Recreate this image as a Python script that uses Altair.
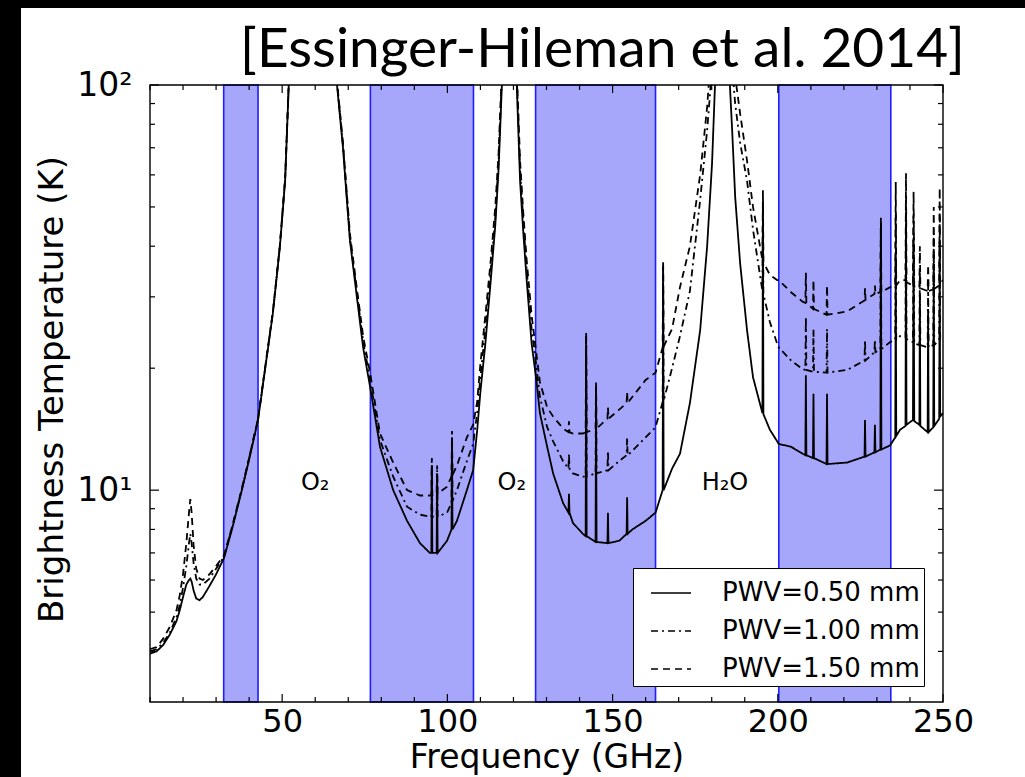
import altair as alt
import pandas as pd

# ---- Atmospheric brightness temperature spectra (K) vs frequency (GHz) ----
FREQ = [
    10, 12, 14, 16, 18, 19, 20, 21, 21.8, 22.2, 22.6, 23.2, 24, 25, 26, 28, 30, 32.4,
    34.8, 37.8, 40, 42.7, 44.8, 47.2, 49.3, 50.9, 52, 53, 55, 60, 64, 65.5, 66.6, 68.4, 70.5, 72.6, 74.5, 76.6,
    79.6, 83.6, 87.8, 91.7, 94.7, 95.15, 95.3, 95.45, 96.75, 96.9, 97.05, 99.9, 101.25, 101.4, 101.55, 102.9, 105.9, 107.8,
    109, 110, 111.5, 113, 114.5, 115.5, 116.5, 117.5, 118.75, 120, 121, 122, 123, 124, 125.5, 127, 128,
    130.2, 132, 135, 136.65, 136.8, 136.95, 138, 141, 141.85, 142.0, 142.15, 144.85, 145.0, 145.15, 148.45, 148.6, 148.75, 152, 154.25, 154.4, 154.55, 156, 160, 163,
    165.15, 165.3, 165.45, 168, 170.4, 173.4, 176.5, 178.6, 180.1, 181, 183.3, 185.5, 186.2, 187.1, 188.6, 190.7, 192.5, 195.35, 195.5, 195.65, 197.6, 199.8,
    200.3, 204, 207.5, 208.35, 208.5, 208.65, 210.65, 210.8, 210.95, 214.75, 214.9, 215.05, 221, 226.25, 226.4, 226.55, 229.25, 229.4, 229.55, 231.05, 231.2, 231.35, 234,
    235.55, 235.7, 235.85, 237, 238.65, 238.8, 238.95, 240.9, 241.1, 241.3, 242.85, 243.0, 243.15, 245.35, 245.5, 245.65, 247.05, 247.2, 247.35, 248.85, 249.0, 249.15, 250,
]

TB_PWV_050 = [
    3.95, 4.0, 4.15, 4.4, 4.75, 5.05, 5.45, 5.85, 6.0, 6.05, 5.95, 5.65, 5.4, 5.35, 5.45, 5.8, 6.2, 6.8,
    8.0, 10.0, 11.9, 14.9, 19.8, 27.4, 39.8, 58, 100, 160, 250, 275, 260, 160, 100, 70, 41.4, 30, 22.5, 18.0,
    12.8, 10.0, 8.4, 7.4, 7.0, 7.0, 11.5, 7.0, 7.0, 11.0, 7.0, 7.5, 8.0, 13.5, 8.0, 8.4, 10.0, 11.2,
    14.0, 17.5, 23, 32, 45, 62, 100, 180, 275, 180, 100, 58, 43, 33, 23, 18.5, 15.5,
    12.8, 11.0, 9.3, 8.8, 9.8, 8.8, 8.3, 7.8, 7.7, 23.7, 7.7, 7.45, 17.5, 7.45, 7.4, 8.8, 7.4, 7.5, 7.8, 9.6, 7.8, 8.0, 8.4, 8.8,
    10.0, 35.5, 10.0, 11.3, 12.3, 16.4, 24.8, 39.8, 64, 100, 275, 100, 77, 53, 36.3, 24.8, 19, 15.5, 50, 15.4, 14.1, 13.2,
    13.0, 12.8, 12.3, 12.2, 19.2, 12.2, 12.0, 17.3, 12.0, 11.6, 17.3, 11.6, 11.7, 12.1, 14.9, 12.1, 12.4, 14.5, 12.4, 12.6, 45.6, 12.6, 12.9,
    13.5, 38, 13.6, 14.1, 14.4, 45, 14.5, 14.9, 42, 14.8, 14.5, 30, 14.4, 13.9, 28, 13.9, 14.3, 36, 14.4, 15.0, 40, 15.2, 15.5,
]

TB_PWV_100 = [
    4.0, 4.05, 4.2, 4.45, 4.85, 5.2, 5.75, 6.5, 7.4, 7.8, 7.4, 6.6, 6.05, 5.85, 5.85, 6.05, 6.4, 6.85,
    8.05, 10.05, 12.0, 15.0, 19.9, 27.5, 40, 58.5, 101, 160, 250, 275, 260, 160, 101, 71, 42, 30.8, 23.3, 18.8,
    13.3, 10.8, 9.1, 8.7, 8.6, 8.6, 11.5, 8.6, 8.6, 11.2, 8.6, 8.8, 9.3, 13.5, 9.4, 10.0, 11.8, 13.0,
    15.5, 19, 25, 34, 47, 65, 105, 180, 275, 180, 105, 62, 46, 35, 25, 20, 17,
    14.3, 13.2, 11.8, 11.3, 12.3, 11.3, 11.0, 10.8, 10.8, 24, 10.8, 11.0, 18, 11.0, 11.2, 12.5, 11.2, 11.8, 12.2, 13.5, 12.2, 12.5, 13.5, 14.3,
    16.5, 36, 16.6, 20, 24, 31, 52, 77, 110, 150, 275, 140, 110, 90, 72, 58, 44, 31, 52, 30.5, 26, 23,
    22.5, 20.9, 19.9, 19.8, 26.8, 19.8, 19.6, 25, 19.6, 19.5, 25, 19.5, 19.8, 20.9, 23.5, 20.9, 21.9, 23.5, 21.9, 22.3, 46, 22.3, 23.2,
    23.5, 48, 23.5, 24, 23.8, 52, 23.6, 23.2, 48, 23, 22.8, 35, 22.8, 22.5, 32, 22.5, 22.8, 43, 22.8, 23.5, 48, 23.6, 24,
]

TB_PWV_150 = [
    4.05, 4.1, 4.3, 4.6, 5.05, 5.5, 6.2, 7.4, 8.8, 9.5, 8.8, 7.3, 6.4, 6.05, 6.0, 6.2, 6.5, 6.9,
    8.1, 10.1, 12.0, 15.0, 20.0, 27.6, 40.2, 59, 102, 160, 250, 275, 260, 160, 102, 72, 43, 31.5, 24, 19.5,
    13.8, 11.7, 10.0, 9.7, 9.7, 9.7, 12.0, 9.7, 9.8, 11.5, 9.8, 10.2, 10.8, 14, 10.9, 11.5, 13.5, 14.5,
    16.5, 20.5, 27, 36, 50, 68, 110, 180, 275, 180, 110, 65, 48, 37, 27, 21.5, 18.5,
    16.0, 15.2, 14.2, 13.9, 14.8, 13.9, 13.8, 13.8, 13.9, 24.5, 13.9, 14.2, 18.5, 14.2, 15.0, 16, 15.0, 15.8, 16.4, 17.5, 16.4, 17.0, 18.7, 19.5,
    22.5, 37, 22.6, 25, 31.7, 40, 60, 88, 130, 180, 275, 170, 130, 105, 85, 65, 50, 37, 55, 36.5, 34, 33,
    33, 30.8, 29.2, 29, 34.4, 29, 28, 33, 28, 27.1, 32, 27.1, 27.6, 29.4, 31.5, 29.5, 30.5, 32, 30.5, 30.8, 47, 30.8, 31.7,
    32, 57.6, 32, 33, 33, 60.6, 32.6, 32, 54.5, 31.8, 31.5, 40, 31.5, 31, 36, 31, 31.3, 50, 31.4, 32, 55.7, 32.2, 33,
]

SERIES = ["PWV=0.50 mm", "PWV=1.00 mm", "PWV=1.50 mm"]

# Observing bands (GHz)
BAND_LO = [32.3, 76.7, 126.7, 200.3]
BAND_HI = [42.7, 107.9, 163.0, 234.2]

# Line annotations
NOTE_TEXT = ["O₂", "O₂", "H₂O"]
NOTE_F = [60, 119.5, 184]
NOTE_T = [10, 10, 10]

# Tick positions
X_MAJOR = [50, 100, 150, 200, 250]
X_MINOR = [10, 20, 30, 40, 60, 70, 80, 90, 110, 120, 130, 140, 160, 170, 180, 190, 210, 220, 230, 240]
Y_MAJOR = [10, 100]
Y_MINOR = [4, 5, 6, 7, 8, 9, 20, 30, 40, 50, 60, 70, 80, 90]

W, H = 793, 617
FONT = "DejaVu Sans"

assert len(FREQ) == len(TB_PWV_050) == len(TB_PWV_100) == len(TB_PWV_150)

rows = []
for name, vals in zip(SERIES, [TB_PWV_050, TB_PWV_100, TB_PWV_150]):
    for f, t in zip(FREQ, vals):
        rows.append({"f": f, "T": t, "pwv": name})
spectra = pd.DataFrame(rows)

bands = pd.DataFrame({"f": BAND_LO, "f2": BAND_HI})
notes = pd.DataFrame({"f": NOTE_F, "T": NOTE_T, "label": NOTE_TEXT})
one = pd.DataFrame({"k": [0]})

xs = alt.Scale(domain=[10, 250], nice=False, zero=False)
ys = alt.Scale(type="log", domain=[3, 100], nice=False)

# white slide panel behind everything
panel = alt.Chart(one).mark_rect(fill="white").encode(
    x=alt.value(21 - 150), x2=alt.value(1025 - 150),
    y=alt.value(8 - 85), y2=alt.value(777 - 85),
)

band_rects = alt.Chart(bands).mark_rect(
    fill="#a6a6fb", stroke="#1e1eff", strokeWidth=1.6
).encode(
    x=alt.X("f:Q", scale=xs),
    x2="f2:Q",
    y=alt.value(0),
    y2=alt.value(H),
)

lines = alt.Chart(spectra).mark_line(clip=True, color="black", strokeWidth=1.8).encode(
    x=alt.X(
        "f:Q", scale=xs,
        axis=alt.Axis(
            values=X_MAJOR, ticks=False, domain=False, grid=False, labelFlush=False,
            labelFont=FONT, labelFontSize=32, labelColor="black", labelPadding=4,
            title="Frequency (GHz)", titleFont=FONT, titleFontSize=33,
            titleFontWeight="normal", titleColor="black",
            titleX=396.5, titleY=65, titleBaseline="alphabetic", titleAlign="center",
            zindex=1,
        ),
    ),
    y=alt.Y(
        "T:Q", scale=ys,
        axis=alt.Axis(
            values=Y_MAJOR, ticks=False, domain=False, grid=False,
            labelExpr="datum.value >= 100 ? '10²' : '10¹'",
            labelFont=FONT, labelFontSize=33, labelColor="black", labelPadding=18,
            title="Brightness Temperature (K)", titleFont=FONT, titleFontSize=34,
            titleFontWeight="normal", titleColor="black",
            titleX=-88, titleY=304, titleAngle=270, titleBaseline="alphabetic",
            titleAlign="center", zindex=1,
        ),
    ),
    strokeDash=alt.StrokeDash(
        "pwv:N",
        scale=alt.Scale(domain=SERIES, range=[[1, 0], [7, 4, 2, 4], [7, 5]]),
        legend=alt.Legend(
            title=None, orient="none", legendX=483, legendY=483,
            fillColor="white", strokeColor="black", padding=4,
            labelFont=FONT, labelFontSize=26, labelColor="black", labelOffset=30,
            labelLimit=400,
            symbolType="stroke", symbolSize=1600, symbolStrokeWidth=1.5,
            symbolStrokeColor="black", symbolOffset=13, rowPadding=4,
        ),
    ),
)

note_text = alt.Chart(notes).mark_text(
    font=FONT, fontSize=24, align="center", baseline="alphabetic", color="black"
).encode(
    x=alt.X("f:Q", scale=xs),
    y=alt.Y("T:Q", scale=ys),
    text="label:N",
)


def x_ticks(vals, y0, y1):
    return alt.Chart(pd.DataFrame({"f": vals})).mark_rule(color="black", strokeWidth=1.2).encode(
        x=alt.X("f:Q", scale=xs), y=alt.value(y0), y2=alt.value(y1)
    )


def y_ticks(vals, x0, x1):
    return alt.Chart(pd.DataFrame({"T": vals})).mark_rule(color="black", strokeWidth=1.2).encode(
        y=alt.Y("T:Q", scale=ys), x=alt.value(x0), x2=alt.value(x1)
    )


ticks = [
    x_ticks(X_MAJOR, H, H - 8), x_ticks(X_MINOR, H, H - 5),
    x_ticks(X_MAJOR, 0, 8), x_ticks(X_MINOR, 0, 5),
    y_ticks(Y_MAJOR, 0, 9), y_ticks(Y_MINOR, 0, 5),
    y_ticks(Y_MAJOR, W, W - 9), y_ticks(Y_MINOR, W, W - 5),
]

frame = alt.Chart(one).mark_rect(fillOpacity=0, stroke="black", strokeWidth=1.4).encode(
    x=alt.value(0), x2=alt.value(W), y=alt.value(0), y2=alt.value(H)
)

citation = alt.Chart(one).mark_text(
    text="[Essinger-Hileman et al. 2014]", font="Lato", fontSize=55,
    align="center", baseline="alphabetic", color="black",
).encode(x=alt.value(452.5), y=alt.value(-18))

chart = alt.layer(
    panel, band_rects, lines, note_text, *ticks, frame, citation
).properties(
    width=W, height=H,
    autosize=alt.AutoSizeParams(type="none"),
    padding={"left": 150, "top": 85, "right": 82, "bottom": 75},
    background="black",
).configure_view(strokeWidth=0)

chart.save("out.html", embed_options={"renderer": "svg", "actions": False})
